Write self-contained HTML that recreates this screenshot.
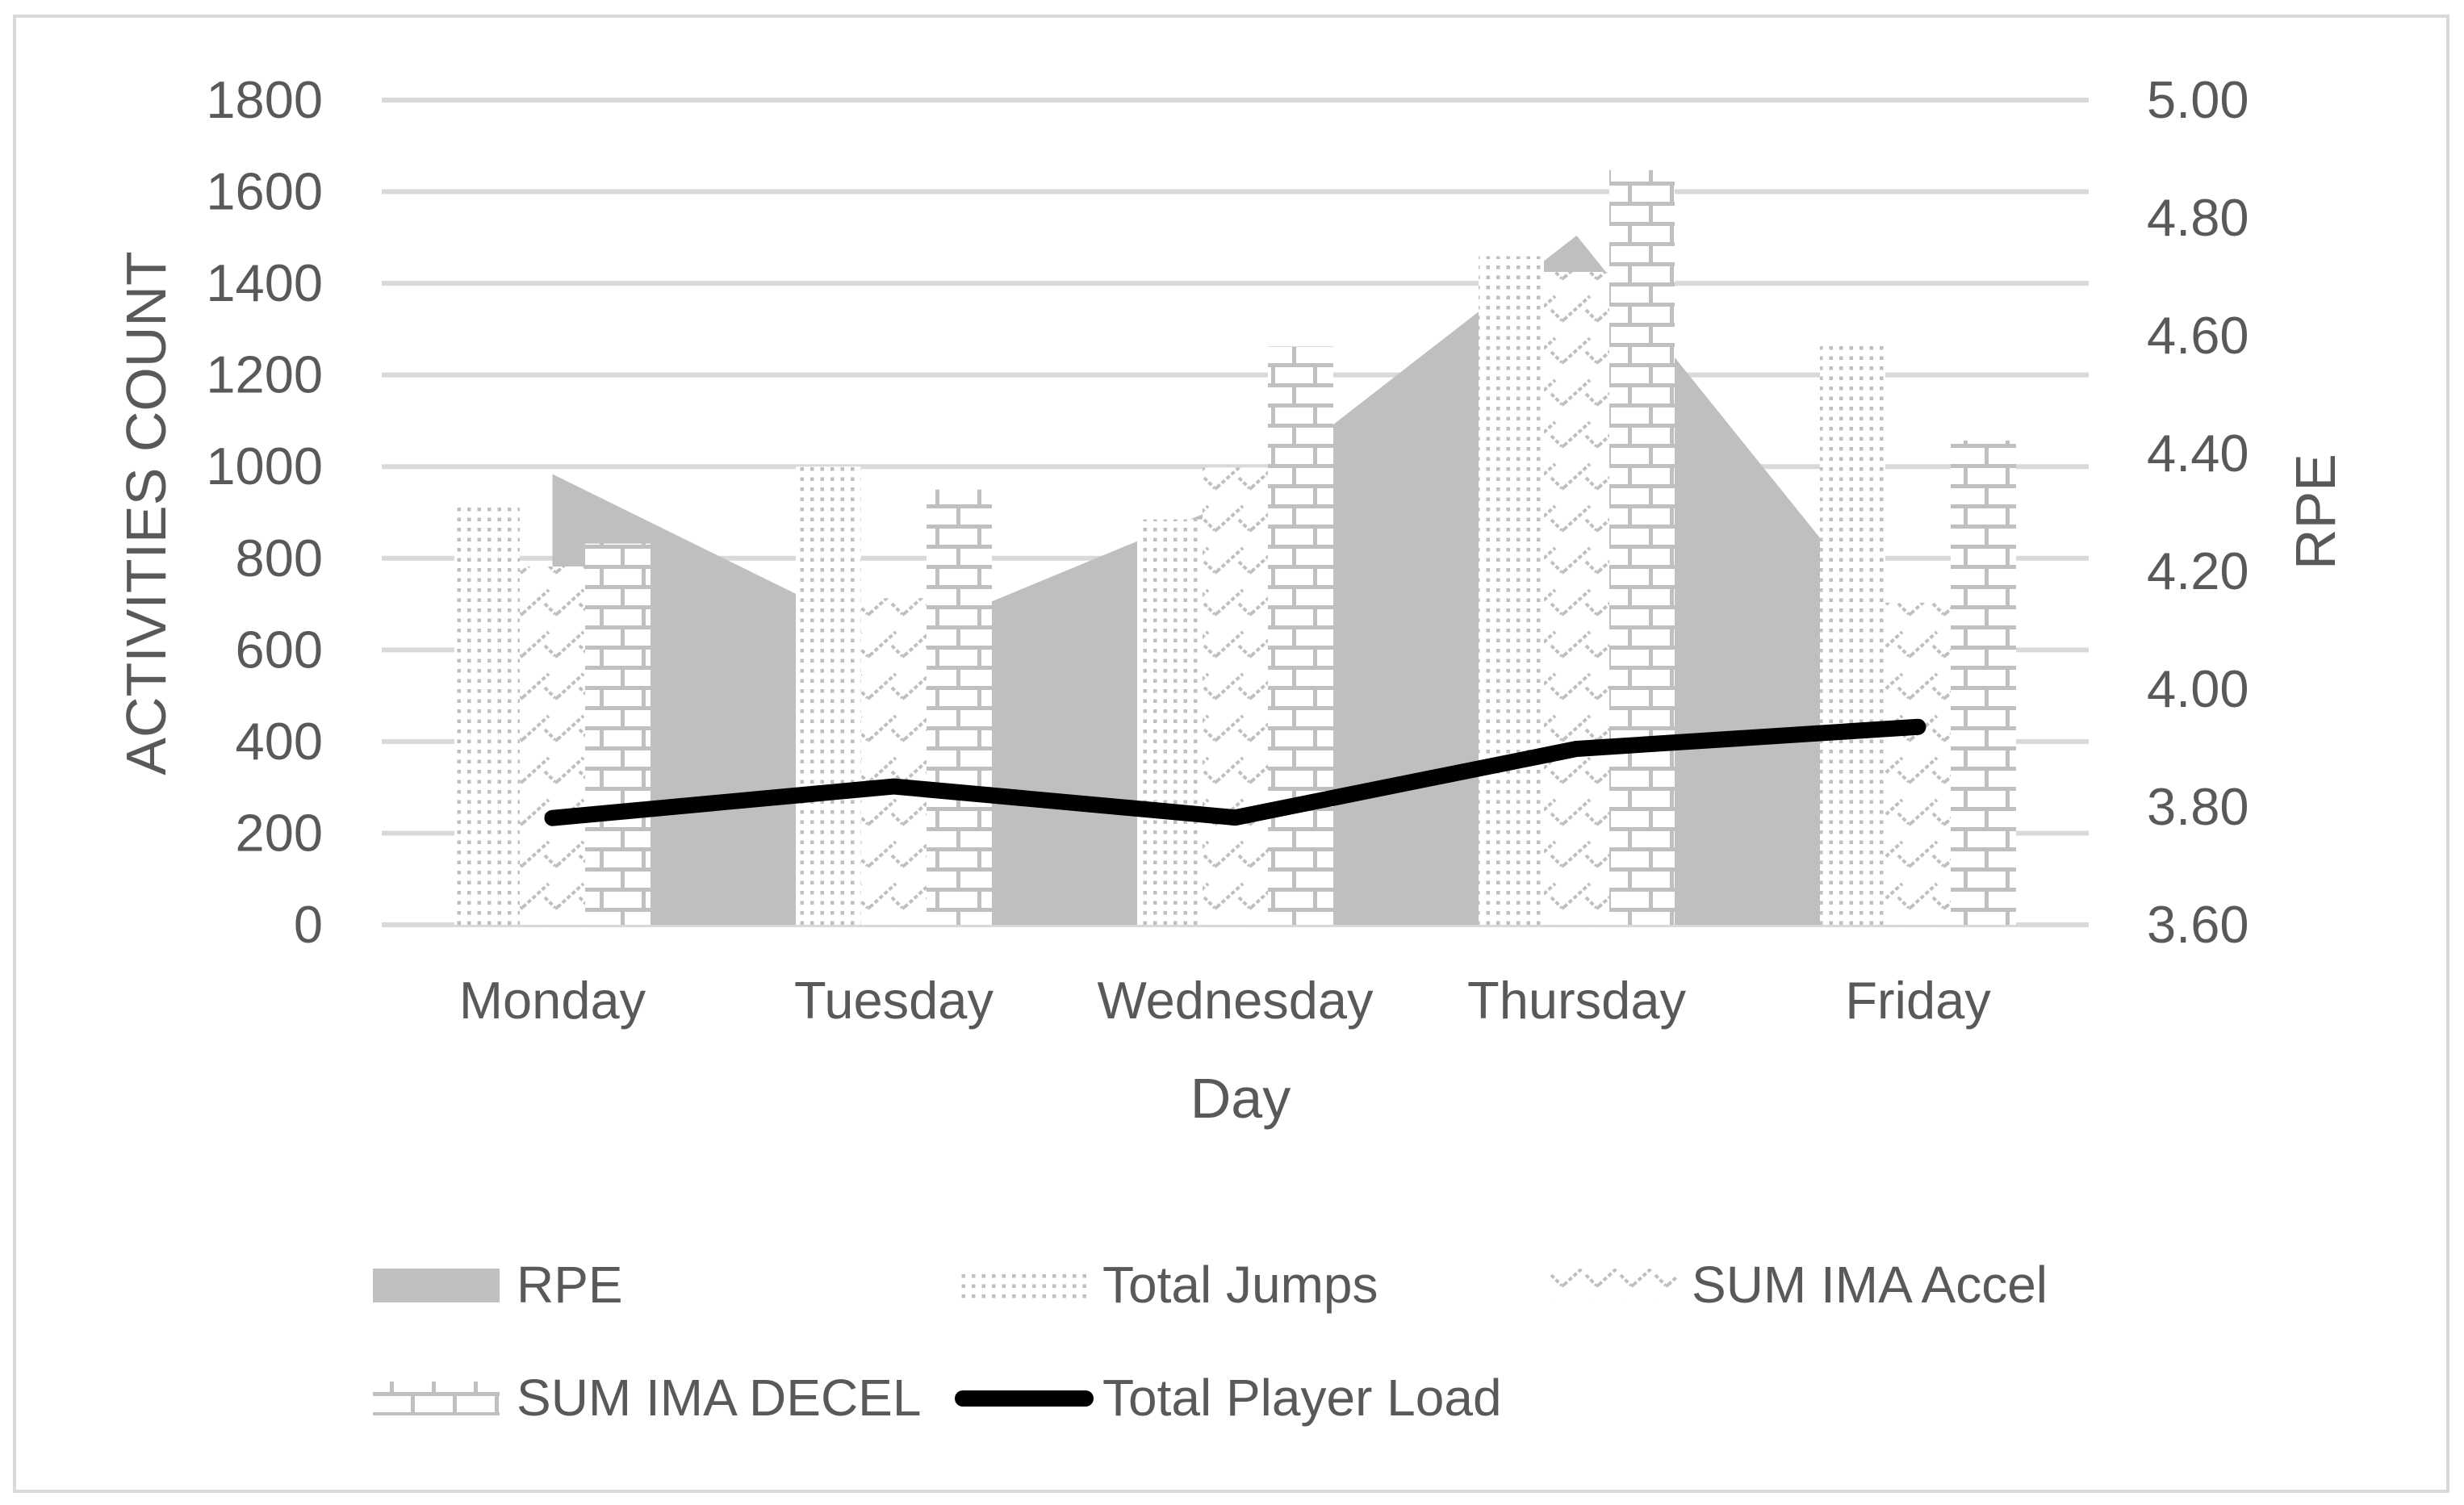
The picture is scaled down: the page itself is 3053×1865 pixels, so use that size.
<!DOCTYPE html>
<html><head><meta charset="utf-8"><style>
html,body{margin:0;padding:0;background:#fff;}
svg{display:block;font-family:"Liberation Sans",sans-serif;}
</style></head><body>
<svg id="chart" width="3053" height="1865" viewBox="0 0 3053 1865" xmlns="http://www.w3.org/2000/svg">
<defs>
<pattern id="pDots" patternUnits="userSpaceOnUse" width="12.5" height="12.5">
<rect width="12.5" height="12.5" fill="#fff"/><rect x="4" y="4" width="4.5" height="4.5" fill="#bfbfbf"/>
</pattern>
<pattern id="pZig" patternUnits="userSpaceOnUse" width="43" height="52">
<rect width="43" height="52" fill="#fff"/>
<path d="M3,32 L35,3 M30,20 L43,33 M0,34 L3,32" stroke="#bfbfbf" stroke-width="4" stroke-dasharray="5 3" fill="none"/>
</pattern>
<pattern id="pBrick" patternUnits="userSpaceOnUse" width="52" height="50">
<rect width="52" height="50" fill="#fff"/>
<rect x="0" y="0" width="52" height="5" fill="#bfbfbf"/>
<rect x="0" y="25" width="52" height="5" fill="#bfbfbf"/>
<rect x="15" y="0" width="5" height="25" fill="#bfbfbf"/>
<rect x="41" y="25" width="5" height="25" fill="#bfbfbf"/>
</pattern>
</defs>
<rect x="18" y="20" width="3015" height="1828" fill="#fff" stroke="#d9d9d9" stroke-width="4"/>
<g id="grid"></g>
<g id="marks"></g>
<g id="axes"></g>
<text transform="translate(205,636) rotate(-90)" text-anchor="middle" font-size="70" fill="#595959">ACTIVITIES COUNT</text>
<text transform="translate(2893,634) rotate(-90)" text-anchor="middle" font-size="70" fill="#595959">RPE</text>
<text x="1537" y="1385" text-anchor="middle" font-size="70" fill="#595959">Day</text>
<g font-size="64" fill="#595959">
<g><rect x="462" y="1572" width="157" height="42" fill="#bfbfbf"/><text x="640" y="1614">RPE</text></g>
<g><rect x="1190" y="1572" width="157" height="42" fill="url(#pDots)"/><text x="1366" y="1614">Total Jumps</text></g>
<g><rect x="1918" y="1572" width="160" height="42" fill="url(#pZig)"/><text x="2096" y="1614">SUM IMA Accel</text></g>
<g><rect x="462" y="1712" width="157" height="42" fill="url(#pBrick)"/><text x="640" y="1754">SUM IMA DECEL</text></g>
<g><line x1="1193" y1="1733" x2="1345" y2="1733" stroke="#000" stroke-width="20" stroke-linecap="round"/><text x="1366" y="1754">Total Player Load</text></g>
</g>
</svg>
<script>
const categories = ["Monday","Tuesday","Wednesday","Thursday","Friday"];
const rpeValues = [4.365, 4.08, 4.32, 4.77, 4.05];
const totalJumps = [912, 1000, 885, 1459, 1268];
const sumImaAccel = [782, 713, 998, 1425, 703];
const sumImaDecel = [832, 950, 1262, 1647, 1057];
const totalPlayerLoad = [233, 302, 234, 384, 432];
const leftTicks = [0,200,400,600,800,1000,1200,1400,1600,1800];
const rightTicks = ["3.60","3.80","4.00","4.20","4.40","4.60","4.80","5.00"];

const NS = "http://www.w3.org/2000/svg";
const X0 = 473, X1 = 2588, YT = 124, YB = 1146;
const catW = (X1 - X0) / categories.length;
const barW = 81;
function xc(i){ return X0 + catW * (i + 0.5); }
function yL(v){ return YB - (v / 1800) * (YB - YT); }
function yR(v){ return YB - ((v - 3.6) / 1.4) * (YB - YT); }
function mk(tag, attrs, parent){
  const e = document.createElementNS(NS, tag);
  for (const k in attrs) e.setAttribute(k, attrs[k]);
  parent.appendChild(e);
  return e;
}
const grid = document.getElementById('grid');
const marks = document.getElementById('marks');
const axes = document.getElementById('axes');

leftTicks.forEach(function(t){
  const l = mk('line', {x1:X0, x2:X1, y1:yL(t), y2:yL(t), stroke:'#d9d9d9', 'stroke-width':6}, grid);
  
  
  const tx = mk('text', {x:400, y:yL(t)+22, 'text-anchor':'end', 'font-size':65, fill:'#595959'}, axes);
  tx.textContent = t;
  
  
});
rightTicks.forEach(function(t){
  const tx = mk('text', {x:2660, y:yR(parseFloat(t))+22, 'font-size':65, fill:'#595959'}, axes);
  tx.textContent = t;
  
  
});
categories.forEach(function(c, i){
  const tx = mk('text', {x:xc(i), y:1262, 'text-anchor':'middle', 'font-size':65, fill:'#595959'}, axes);
  tx.textContent = c;
  
  
});

let d = 'M' + xc(0) + ',' + YB;
rpeValues.forEach(function(v, i){ d += ' L' + xc(i) + ',' + yR(v); });
d += ' L' + xc(rpeValues.length - 1) + ',' + YB + ' Z';
const area = mk('path', {d:d, fill:'#bfbfbf'}, marks);



const series = [[totalJumps,'url(#pDots)','total-jumps'],[sumImaAccel,'url(#pZig)','sum-ima-accel'],[sumImaDecel,'url(#pBrick)','sum-ima-decel']];
categories.forEach(function(c, i){
  series.forEach(function(s, k){
    const v = s[0][i];
    const x = xc(i) - 1.5 * barW + k * barW;
    const r = mk('rect', {x:x, y:yL(v), width:barW, height:YB - yL(v), fill:s[1]}, marks);
    
    
  });
});

const pts = totalPlayerLoad.map(function(v, i){ return xc(i) + ',' + yL(v); }).join(' ');
const pl = mk('polyline', {points:pts, fill:'none', stroke:'#000', 'stroke-width':20, 'stroke-linecap':'round', 'stroke-linejoin':'round'}, marks);


</script>
</body></html>
